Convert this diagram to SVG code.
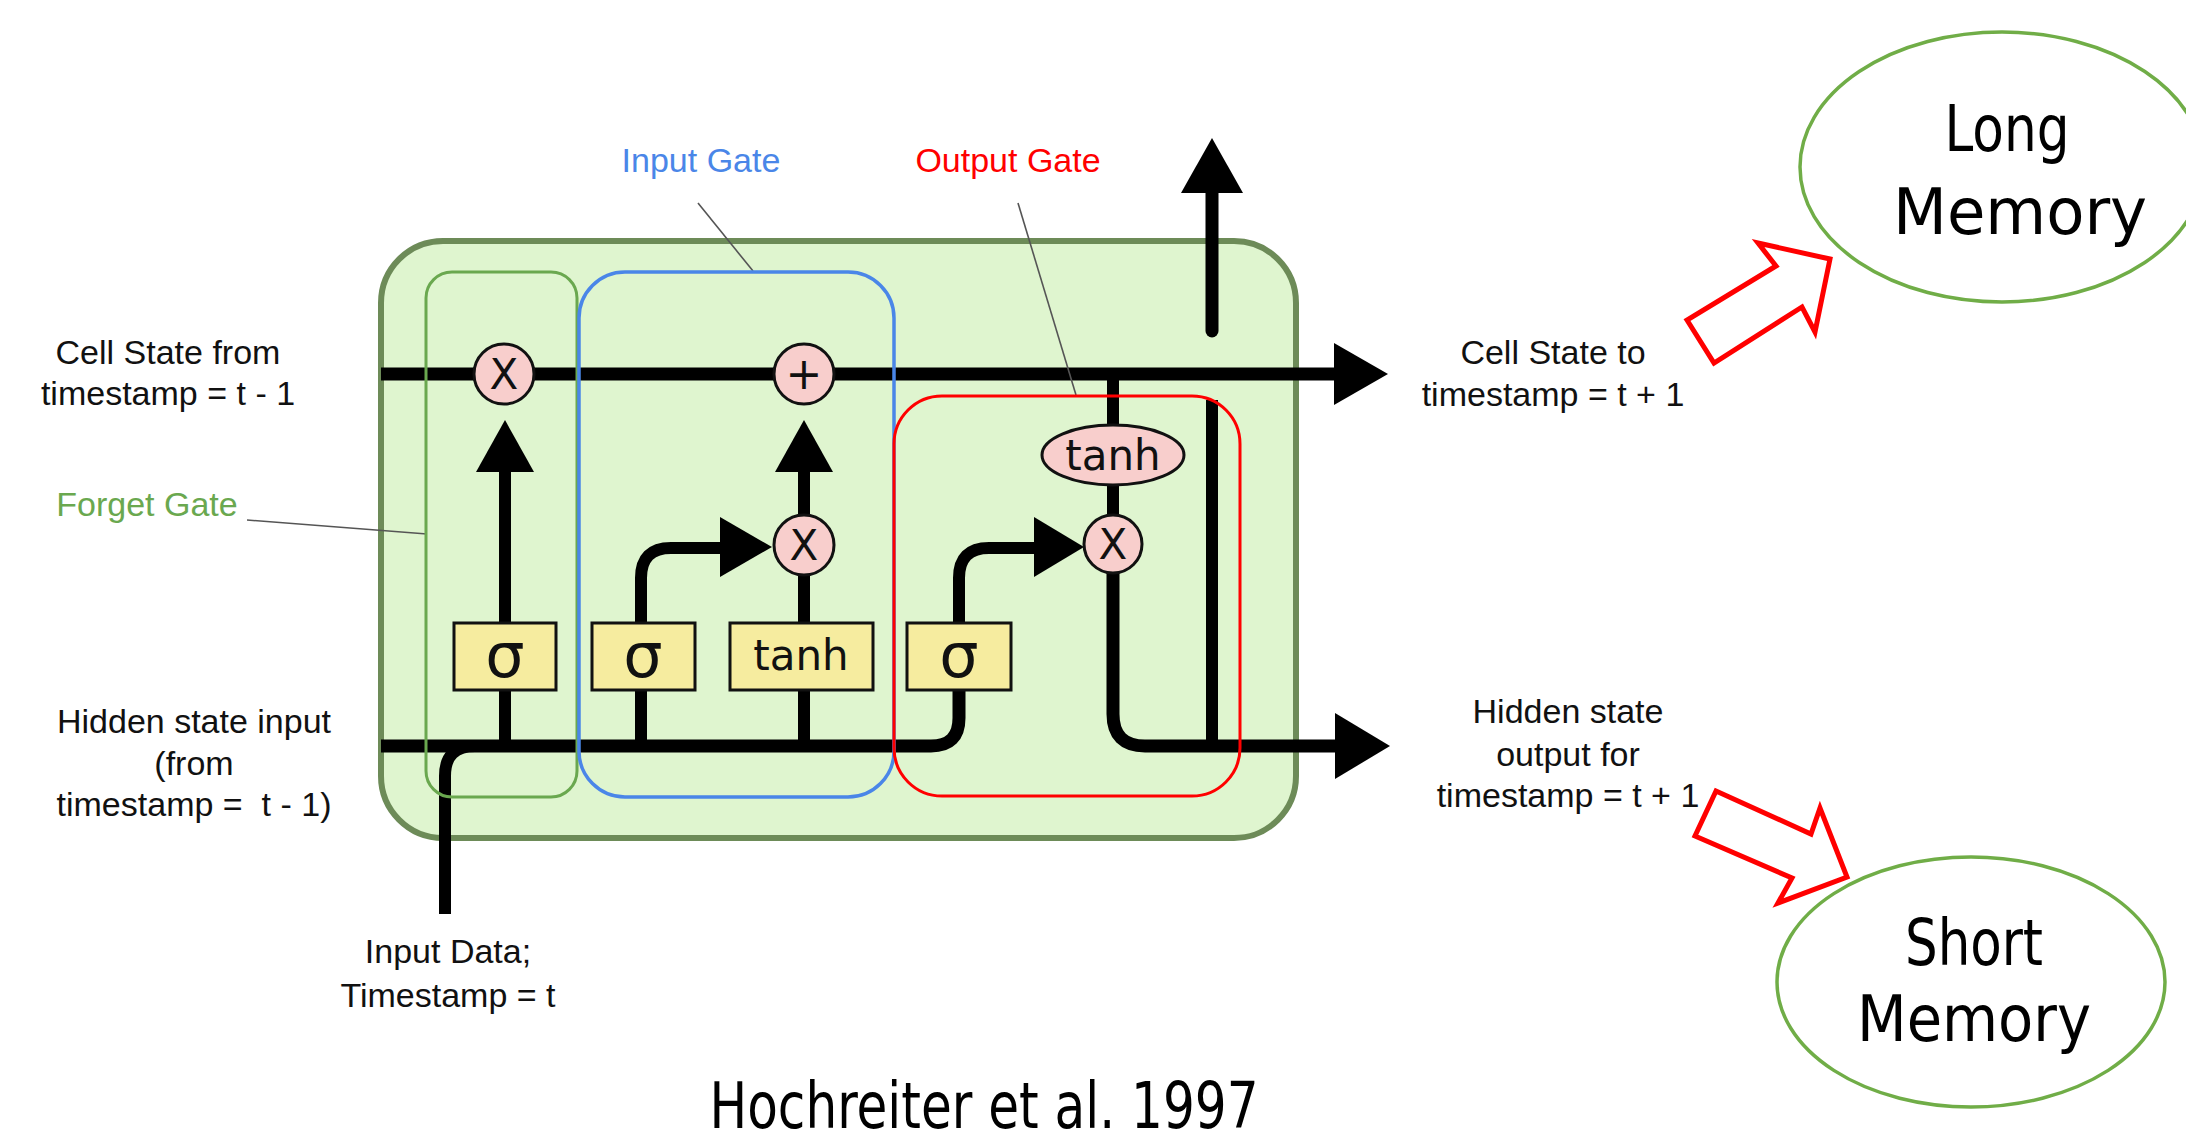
<svg xmlns="http://www.w3.org/2000/svg" width="2186" height="1142" viewBox="0 0 2186 1142">
<defs>
<style>
.lbl{font-family:"Liberation Sans",Arial,sans-serif;font-size:34px;fill:#111;text-anchor:middle}
.big{font-family:"DejaVu Sans Condensed","DejaVu Sans",sans-serif;font-size:64px;fill:#000;text-anchor:middle}
.op{fill:#f8cecc;stroke:#111;stroke-width:3}
.act{fill:#f6ec9f;stroke:#111;stroke-width:3}
.opt{font-family:"DejaVu Sans",sans-serif;fill:#111;text-anchor:middle}
.wire{fill:none;stroke:#000;stroke-width:13}
.thin{fill:none;stroke:#000;stroke-width:12}
.head{fill:#000}
.lead{stroke:#555;stroke-width:1.6;fill:none}
.hollow{fill:#fff;stroke:#f00;stroke-width:5;stroke-linejoin:miter}
.mem{fill:#fff;stroke:#70ad47;stroke-width:3.5}
.gate{fill:none}
</style>
</defs>
<rect width="2186" height="1142" fill="#fff"/>

<g id="lstm-cell">
<rect x="381" y="241" width="915" height="597" rx="62" fill="#dff5cf" stroke="#6d8b58" stroke-width="6"/>
</g>

<g id="connectors">
<path class="wire" d="M381 374 H1336"/>
<polygon class="head" points="1334,343 1388,374 1334,405"/>
<path class="wire" d="M381 746 H931 Q959 746 959 718 V689"/>
<path class="thin" d="M445 914 V776 Q445 746 475 746"/>
<path class="thin" d="M505 746 V689"/>
<path class="thin" d="M505 623 V470"/>
<polygon class="head" points="476,472 505,420 534,472"/>
<path class="thin" d="M641 746 V689"/>
<path class="thin" d="M641 623 V578 Q641 548 671 548 H724"/>
<polygon class="head" points="720,517 772,547 720,577"/>
<path class="thin" d="M804 746 V689"/>
<path class="thin" d="M804 623 V574"/>
<path class="thin" d="M804 516 V470"/>
<polygon class="head" points="775,472 804,420 833,472"/>
<path class="thin" d="M959 623 V578 Q959 548 989 548 H1038"/>
<polygon class="head" points="1034,517 1084,547 1034,577"/>
<path class="thin" d="M1113 374 V426"/>
<path class="thin" d="M1113 484 V516"/>
<path class="wire" d="M1113 573 V714 Q1113 746 1145 746 H1338"/>
<polygon class="head" points="1335,713 1390,746 1335,779"/>
<path class="thin" d="M1212 400 V746"/>
<path class="wire" d="M1212 331 V190" stroke-linecap="round"/>
<polygon class="head" points="1181,193 1212,138 1243,193"/>
<line class="lead" x1="247" y1="520" x2="427" y2="534"/>
<line class="lead" x1="698" y1="203" x2="753" y2="271"/>
<line class="lead" x1="1018" y1="203" x2="1076" y2="395"/>
</g>

<g id="forget-gate">
<rect class="gate" x="426" y="272" width="151" height="525" rx="26" stroke="#6aa84f" stroke-width="3"/>
</g>
<g id="input-gate">
<rect class="gate" x="579" y="272" width="315" height="525" rx="46" stroke="#4a86e8" stroke-width="3.5"/>
</g>
<g id="output-gate">
<rect class="gate" x="894" y="396" width="346" height="400" rx="48" stroke="#ff0000" stroke-width="3"/>
</g>

<g id="op-forget-mul">
<circle class="op" cx="504" cy="374" r="30"/>
<text class="opt" x="504" y="389" font-size="42">X</text>
</g>
<g id="op-add">
<circle class="op" cx="804" cy="374" r="30"/>
<text class="opt" x="804" y="389" font-size="44">+</text>
</g>
<g id="op-input-mul">
<circle class="op" cx="804" cy="545" r="30"/>
<text class="opt" x="804" y="560" font-size="42">X</text>
</g>
<g id="op-output-mul">
<circle class="op" cx="1113" cy="544" r="29"/>
<text class="opt" x="1113" y="559" font-size="42">X</text>
</g>
<g id="op-tanh">
<ellipse class="op" cx="1113" cy="455" rx="71" ry="30"/>
<text class="opt" x="1113" y="470" font-size="42">tanh</text>
</g>

<g id="act-sigma-forget">
<rect class="act" x="454" y="623" width="102" height="67"/>
<text class="opt" x="505" y="677" font-size="62">σ</text>
</g>
<g id="act-sigma-input">
<rect class="act" x="592" y="623" width="103" height="67"/>
<text class="opt" x="643" y="677" font-size="62">σ</text>
</g>
<g id="act-tanh">
<rect class="act" x="730" y="623" width="143" height="67"/>
<text class="opt" x="801" y="670" font-size="42">tanh</text>
</g>
<g id="act-sigma-output">
<rect class="act" x="907" y="623" width="104" height="67"/>
<text class="opt" x="959" y="677" font-size="62">σ</text>
</g>

<g id="labels">
<text class="lbl" x="701" y="172" style="fill:#4a86e8">Input Gate</text>
<text class="lbl" x="1008" y="172" style="fill:#ff0000">Output Gate</text>
<text class="lbl" x="147" y="516" style="fill:#6aa84f">Forget Gate</text>
<text class="lbl" x="168" y="364">Cell State from</text>
<text class="lbl" x="168" y="405">timestamp = t - 1</text>
<text class="lbl" x="194" y="733">Hidden state input</text>
<text class="lbl" x="194" y="775">(from</text>
<text class="lbl" x="194" y="816" xml:space="preserve">timestamp =  t - 1)</text>
<text class="lbl" x="1553" y="364">Cell State to</text>
<text class="lbl" x="1553" y="406">timestamp = t + 1</text>
<text class="lbl" x="1568" y="723">Hidden state</text>
<text class="lbl" x="1568" y="766">output for</text>
<text class="lbl" x="1568" y="807">timestamp = t + 1</text>
<text class="lbl" x="448" y="963">Input Data;</text>
<text class="lbl" x="448" y="1007">Timestamp = t</text>
</g>

<g id="arrow-long">
<polygon class="hollow" points="1687,320 1714,363 1802,307 1815,332 1830,259 1758,243 1776,266"/>
</g>
<g id="arrow-short">
<polygon class="hollow" points="1716,791 1695,836 1792,878 1778,903 1847,877 1820,808 1811,834"/>
</g>

<g id="long-memory">
<ellipse class="mem" cx="2002" cy="167" rx="202" ry="135"/>
<text class="big" x="2007" y="151" textLength="125" lengthAdjust="spacingAndGlyphs">Long</text>
<text class="big" x="2020" y="234" textLength="254" lengthAdjust="spacingAndGlyphs">Memory</text>
</g>
<g id="short-memory">
<ellipse class="mem" cx="1971" cy="982" rx="194" ry="125"/>
<text class="big" x="1974" y="965" textLength="138" lengthAdjust="spacingAndGlyphs">Short</text>
<text class="big" x="1974" y="1041" textLength="234" lengthAdjust="spacingAndGlyphs">Memory</text>
</g>

<g id="title">
<text class="big" x="984" y="1128" font-size="60" textLength="549" lengthAdjust="spacingAndGlyphs">Hochreiter et al. 1997</text>
</g>
</svg>
